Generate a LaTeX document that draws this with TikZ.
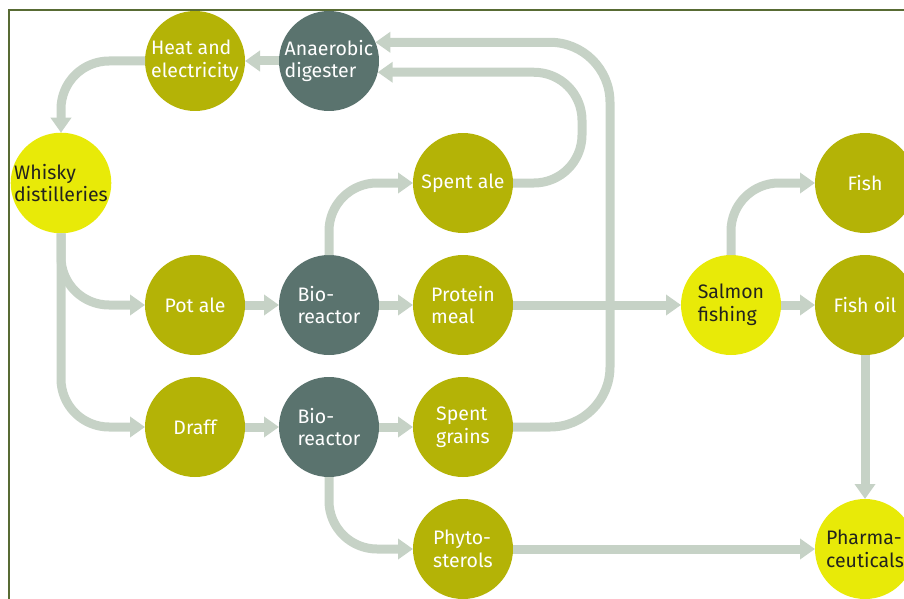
\documentclass[tikz,border=0pt]{standalone}
\usepackage{fontspec}
\setmainfont{Fira Sans}
\usepackage{tikz}
\usetikzlibrary{
    arrows.meta,
    positioning
}
\definecolor{Colive}{RGB}{180, 179, 6}
\definecolor{Cteal}{RGB}{90, 115, 110}
\definecolor{Cyellow}{RGB}{232, 234, 8}
\definecolor{Cink}{RGB}{35, 35, 30}
\definecolor{Cflow}{RGB}{198, 210, 198}
\definecolor{Cframe}{RGB}{88, 107, 52}
\tikzset{
    cprod/.style={
        circle, fill=Colive, text=white, minimum size=100pt,
        inner sep=0pt, outer sep=0pt, align=left,
        font=\fontsize{19.5}{22.5}\selectfont
    },
    cunit/.style={cprod, fill=Cteal},
    ckey/.style={cprod, fill=Cyellow, text=Cink},
    cflow/.style={-{Triangle[length=15pt, width=20pt]}, line width=9pt, draw=Cflow},
}
\begin{document}
\begin{tikzpicture}[x=1pt, y=-1pt, node distance=122pt and 134pt, on grid]

    \clip (0,0) rectangle (904,599);
    \draw [Cframe, line width=2pt] (9,599) -- (9,10) -- (904,10);

    \node [cprod] (potale) at (195,305) {Pot ale};
    \node [cunit, right=of potale] (bioA) {Bio-\\reactor};
    \node [cprod, right=of bioA] (protein) {Protein\\meal};
    \node [cprod, above=of protein] (spentale) {Spent ale};
    \node [ckey, right=268pt of protein] (salmon) {Salmon\\fishing};
    \node [cprod, right=of salmon] (fishoil) {Fish oil};
    \node [cprod, above=of fishoil] (fish) {Fish};
    \node [ckey, below=244pt of fishoil] (pharma) {Pharma-\\ceuticals};
    \node [ckey, above left=of potale] (whisky) {Whisky\\distilleries};
    \node [cprod, above=244pt of potale] (heat) {Heat and\\electricity};
    \node [cunit, right=of heat] (anaer) {Anaerobic\\digester};
    \node [cprod, below=of potale] (draff) {Draff};
    \node [cunit, below=of bioA] (bioB) {Bio-\\reactor};
    \node [cprod, below=of protein] (spentgr) {Spent\\grains};
    \node [cprod, below=of spentgr] (phyto) {Phyto-\\sterols};

    \coordinate (loopA) at (582,0);
    \coordinate (loopB) at (610,0);

    \draw [cflow] (anaer) -- (heat);
    \draw [cflow, rounded corners=48pt] (heat.west) -| (whisky.north);
    \draw [cflow, rounded corners=48pt] (whisky.south) |- (potale.west);
    \draw [cflow, rounded corners=48pt] (whisky.south) |- (draff.west);
    \draw [cflow] (potale) -- (bioA);
    \draw [cflow] (draff) -- (bioB);
    \draw [cflow] (bioA) -- (protein);
    \draw [cflow] (bioB) -- (spentgr);
    \draw [cflow, rounded corners=48pt] (bioA.north) |- (spentale.west);
    \draw [cflow, rounded corners=48pt] (bioB.south) |- (phyto.west);
    \draw [cflow, rounded corners=48pt] (spentale.east) -| (loopA |- anaer.-13) -- (anaer.-13);
    \draw [cflow, rounded corners=60pt] (spentgr.east) -| (loopB |- anaer.22) -- (anaer.22);
    \draw [cflow] (protein) -- (salmon);
    \draw [cflow, rounded corners=48pt] (salmon.north) |- (fish.west);
    \draw [cflow] (salmon) -- (fishoil);
    \draw [cflow] (fishoil) -- (pharma);
    \draw [cflow] (phyto) -- (pharma);

\end{tikzpicture}
\end{document}
